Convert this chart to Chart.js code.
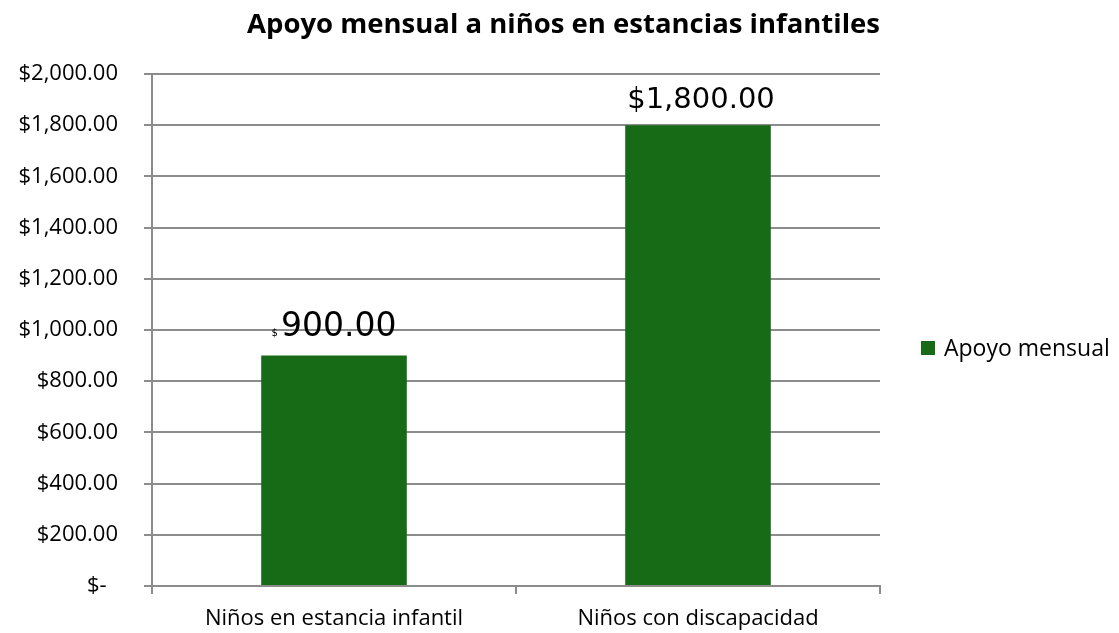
<!DOCTYPE html>
<html>
<head>
<meta charset="utf-8">
<script src="https://cdn.jsdelivr.net/npm/chart.js@4.4.0/dist/chart.umd.min.js"></script>
<style>
html,body{margin:0;padding:0;background:#fff;}
#wrap{width:1119px;height:633px;}
</style>
</head>
<body>
<div id="wrap"><canvas id="c" width="1119" height="633"></canvas></div>
<script>
const categories = ["Niños en estancia infantil", "Niños con discapacidad"];
const seriesName = "Apoyo mensual";
const values = [900, 1800];
const yTickValues = [0, 200, 400, 600, 800, 1000, 1200, 1400, 1600, 1800, 2000];
const yTickLabels = ["$-  ", "$200.00", "$400.00", "$600.00", "$800.00", "$1,000.00", "$1,200.00", "$1,400.00", "$1,600.00", "$1,800.00", "$2,000.00"];
const dataLabelPrefix = ["$", "$"];
const dataLabelNumber = ["900.00", "1,800.00"];

const barColor = "#176b17";
const gridColor = "#8c8c8c";
const baseFont = "'Open Sans', sans-serif";

const labelPlugin = {
  id: 'valueLabels',
  afterDatasetsDraw(chart) {
    const ctx = chart.ctx;
    const meta = chart.getDatasetMeta(0);
    ctx.save();
    ctx.fillStyle = '#000';
    ctx.textBaseline = 'alphabetic';
    meta.data.forEach((bar, i) => {
      const cx = bar.x;
      if (i === 0) {
        ctx.font = "33px 'DejaVu Sans', sans-serif";
        const num = dataLabelNumber[i];
        const wNum = ctx.measureText(num).width;
        ctx.font = "10px 'DejaVu Sans', sans-serif";
        const wPre = ctx.measureText(dataLabelPrefix[i]).width;
        const total = wNum + wPre + 3;
        const start = cx - total / 2;
        const base = bar.y - 20;
        ctx.textAlign = 'left';
        ctx.fillText(dataLabelPrefix[i], start, base);
        ctx.font = "33px 'DejaVu Sans', sans-serif";
        ctx.fillText(num, start + wPre + 3, base);
      } else {
        ctx.font = "29px 'DejaVu Sans', sans-serif";
        ctx.textAlign = 'center';
        ctx.fillText(dataLabelPrefix[i] + dataLabelNumber[i], cx + 3, bar.y - 17);
      }
    });
    ctx.restore();
  }
};

const legendPlugin = {
  id: 'customLegend',
  afterDraw(chart) {
    const ctx = chart.ctx;
    const ds = chart.data.datasets[0];
    ctx.save();
    ctx.fillStyle = ds.backgroundColor;
    ctx.fillRect(921, 341, 14, 14);
    ctx.fillStyle = '#000';
    ctx.font = "23px " + baseFont;
    ctx.textAlign = 'left';
    ctx.textBaseline = 'middle';
    ctx.fillText(ds.label, 944, 349);
    ctx.restore();
  }
};

new Chart(document.getElementById('c'), {
  type: 'bar',
  data: {
    labels: categories,
    datasets: [{
      label: seriesName,
      data: values,
      backgroundColor: barColor,
      borderWidth: 0,
      barPercentage: 0.4,
      categoryPercentage: 1.0
    }]
  },
  options: {
    responsive: false,
    animation: false,
    layout: { padding: { left: 0, right: 239, top: 0, bottom: 0 } },
    plugins: {
      legend: { display: false },
      tooltip: { enabled: false },
      title: {
        display: true,
        align: 'end',
        text: 'Apoyo mensual a niños en estancias infantiles',
        color: '#000',
        font: { family: baseFont, size: 27.5, weight: 'bold' },
        padding: { top: 9, bottom: 32 }
      }
    },
    scales: {
      x: {
        afterFit(scale) { scale.height = 47; },
        grid: { display: true, offset: true, drawOnChartArea: false, color: gridColor, lineWidth: 2, tickLength: 8 },
        border: { display: true, color: gridColor, width: 2 },
        ticks: { color: '#000', font: { family: baseFont, size: 22 }, padding: 12, maxRotation: 0 }
      },
      y: {
        min: 0, max: 2000,
        afterBuildTicks(scale) { scale.ticks = yTickValues.map(v => ({ value: v })); },
        afterFit(scale) { scale.width = 152; },
        grid: { color: gridColor, lineWidth: 2, tickLength: 8 },
        border: { display: true, color: gridColor, width: 2 },
        ticks: {
          color: '#000',
          font: { family: baseFont, size: 22 },
          padding: 26,
          callback(value) { return yTickLabels[yTickValues.indexOf(value)]; }
        }
      }
    }
  },
  plugins: [labelPlugin, legendPlugin]
});
</script>
</body>
</html>
